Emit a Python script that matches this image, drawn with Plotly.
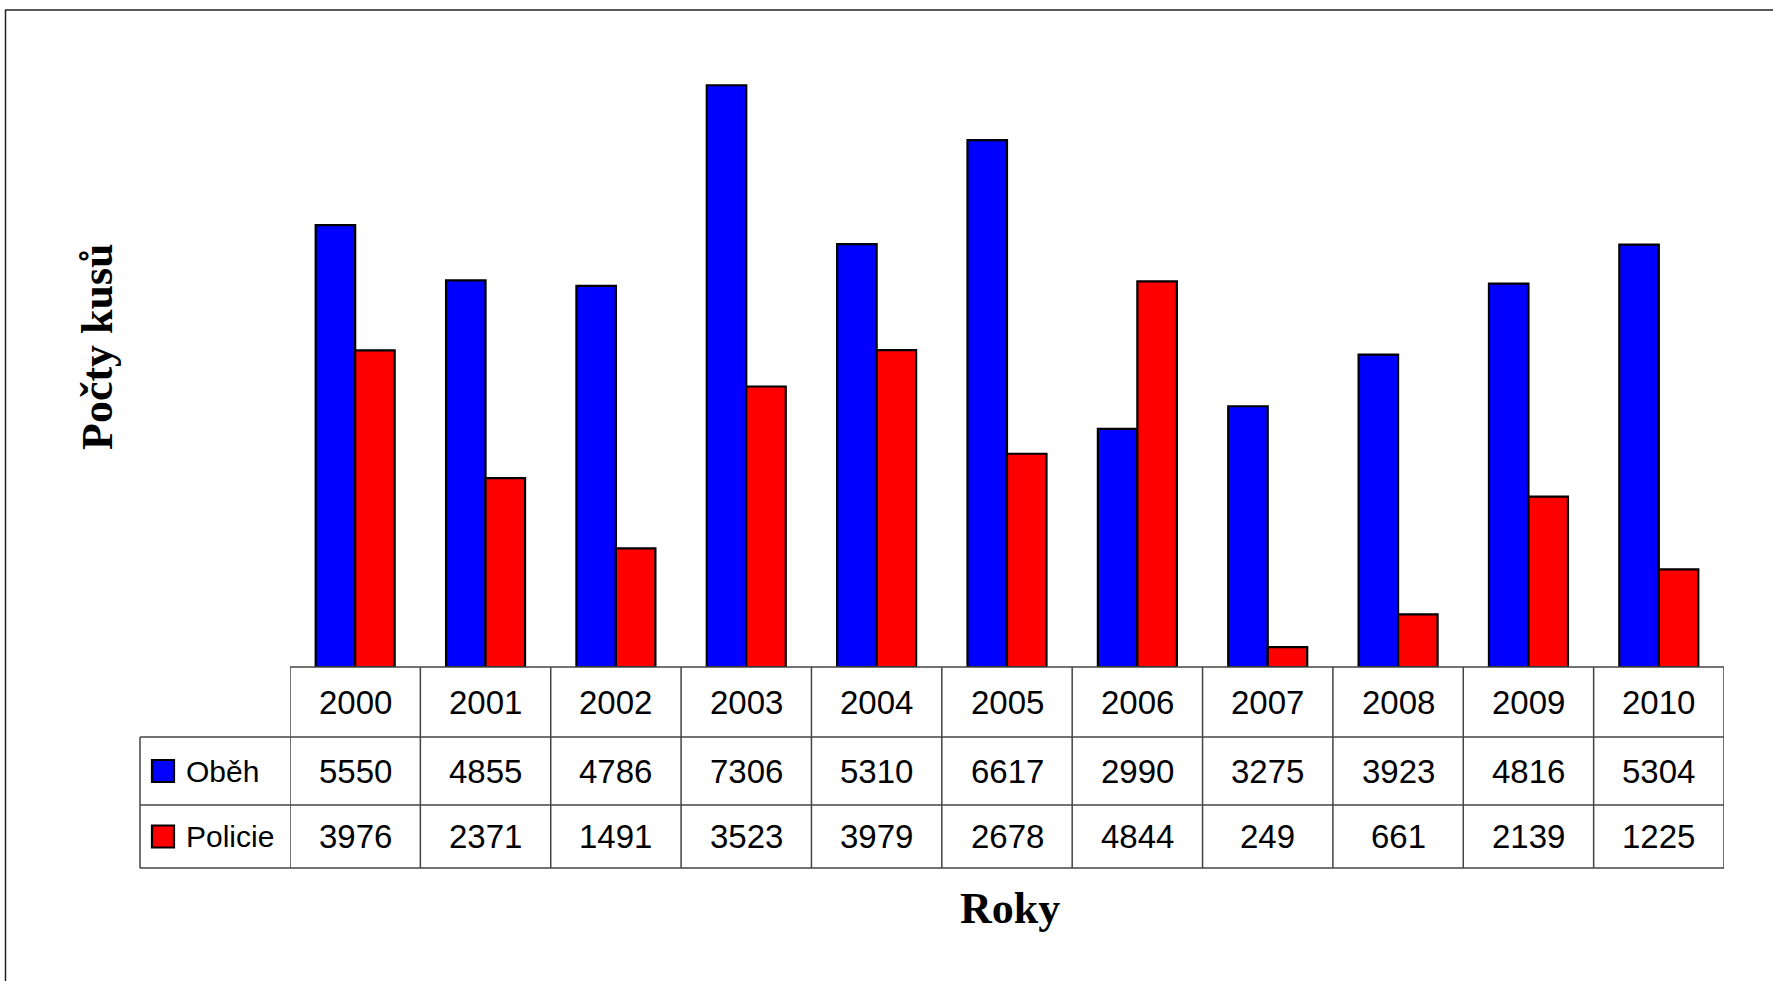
import plotly.graph_objects as go

years = ["2000", "2001", "2002", "2003", "2004", "2005", "2006", "2007", "2008", "2009", "2010"]
obeh = [5550, 4855, 4786, 7306, 5310, 6617, 2990, 3275, 3923, 4816, 5304]
policie = [3976, 2371, 1491, 3523, 3979, 2678, 4844, 249, 661, 2139, 1225]
series_names = ["Oběh", "Policie"]
series_colors = ["#0000FF", "#FF0000"]
y_title = "Počty kusů"
x_title = "Roky"

W, H = 1773, 981
L, R, T, B = 290, 1724, 30, 667  # plot area in pixels


def px(x):
    return (x - L) / (R - L)


def py(y):
    return (B - y) / (B - T)


fig = go.Figure()
for name, vals, col in zip(series_names, [obeh, policie], series_colors):
    fig.add_trace(go.Bar(x=years, y=vals, name=name,
                         marker=dict(color=col, line=dict(color="black", width=2.2))))

shapes = []
annotations = []
grid = "#444444"
lw = 1.5

row_y = [667, 737, 805, 868]
shapes.append(dict(type="line", xref="paper", yref="paper", x0=0, x1=1, y0=py(row_y[0]), y1=py(row_y[0]),
                   line=dict(color=grid, width=lw)))
for yy in row_y[1:]:
    shapes.append(dict(type="line", xref="paper", yref="paper", x0=px(140), x1=1, y0=py(yy), y1=py(yy),
                       line=dict(color=grid, width=lw)))
n = len(years)
for i in range(n + 1):
    shapes.append(dict(type="line", xref="x", yref="paper", x0=i - 0.5, x1=i - 0.5,
                       y0=py(row_y[0]), y1=py(row_y[3]), line=dict(color=grid, width=lw)))
shapes.append(dict(type="line", xref="paper", yref="paper", x0=px(140), x1=px(140),
                   y0=py(row_y[1]), y1=py(row_y[3]), line=dict(color=grid, width=lw)))

# outer frame (left and top edges visible)
shapes.append(dict(type="line", xref="paper", yref="paper", x0=px(5.5), x1=px(5.5), y0=py(10), y1=py(1000),
                   line=dict(color="#222222", width=1.5)))
shapes.append(dict(type="line", xref="paper", yref="paper", x0=px(5), x1=px(1800), y0=py(10), y1=py(10),
                   line=dict(color="#222222", width=1.5)))

tfont = dict(family="Liberation Sans Narrow, Arial Narrow, Liberation Sans, Arial", size=33, color="black")
lfont = dict(family="Liberation Sans Narrow, Arial Narrow, Liberation Sans, Arial", size=30, color="black")
row_centers = [(row_y[0] + row_y[1]) / 2, (row_y[1] + row_y[2]) / 2, (row_y[2] + row_y[3]) / 2]
for i, yr in enumerate(years):
    annotations.append(dict(x=i, y=py(row_centers[0]), xref="x", yref="paper", text=yr, showarrow=False,
                            font=tfont, xanchor="center", yanchor="middle"))
    annotations.append(dict(x=i, y=py(row_centers[1]), xref="x", yref="paper", text=str(obeh[i]), showarrow=False,
                            font=tfont, xanchor="center", yanchor="middle"))
    annotations.append(dict(x=i, y=py(row_centers[2]), xref="x", yref="paper", text=str(policie[i]), showarrow=False,
                            font=tfont, xanchor="center", yanchor="middle"))

for k, (name, col) in enumerate(zip(series_names, series_colors)):
    cy = row_centers[k + 1]
    shapes.append(dict(type="rect", xref="paper", yref="paper", x0=px(152), x1=px(174), y0=py(cy - 11), y1=py(cy + 11),
                       fillcolor=col, line=dict(color="black", width=2.2)))
    annotations.append(dict(x=px(184), y=py(cy), xref="paper", yref="paper", text=name, showarrow=False,
                            font=lfont, xanchor="left", yanchor="middle"))

annotations.append(dict(x=px(97), y=py(347), xref="paper", yref="paper", text="<b>" + y_title + "</b>",
                        showarrow=False, textangle=-90, xanchor="center", yanchor="middle",
                        font=dict(family="Liberation Serif, Times New Roman, serif", size=44, color="black")))
annotations.append(dict(x=px(1010), y=py(908), xref="paper", yref="paper", text="<b>" + x_title + "</b>",
                        showarrow=False, xanchor="center", yanchor="middle",
                        font=dict(family="Liberation Serif, Times New Roman, serif", size=44, color="black")))

fig.update_layout(
    width=W, height=H,
    margin=dict(l=L, r=W - R, t=T, b=H - B, pad=0),
    paper_bgcolor="white", plot_bgcolor="white",
    barmode="group", bargap=0.394, bargroupgap=0,
    showlegend=False,
    xaxis=dict(type="category", range=[-0.5, n - 0.5], showticklabels=False, showgrid=False,
               zeroline=False, showline=False, ticks=""),
    yaxis=dict(range=[0, 8000], showticklabels=False, showgrid=False, zeroline=False, showline=False, ticks=""),
    shapes=shapes, annotations=annotations,
)

fig.write_html("out.html", config={"displayModeBar": False},
               post_script="document.body.style.margin='0';document.body.style.overflow='hidden';")
